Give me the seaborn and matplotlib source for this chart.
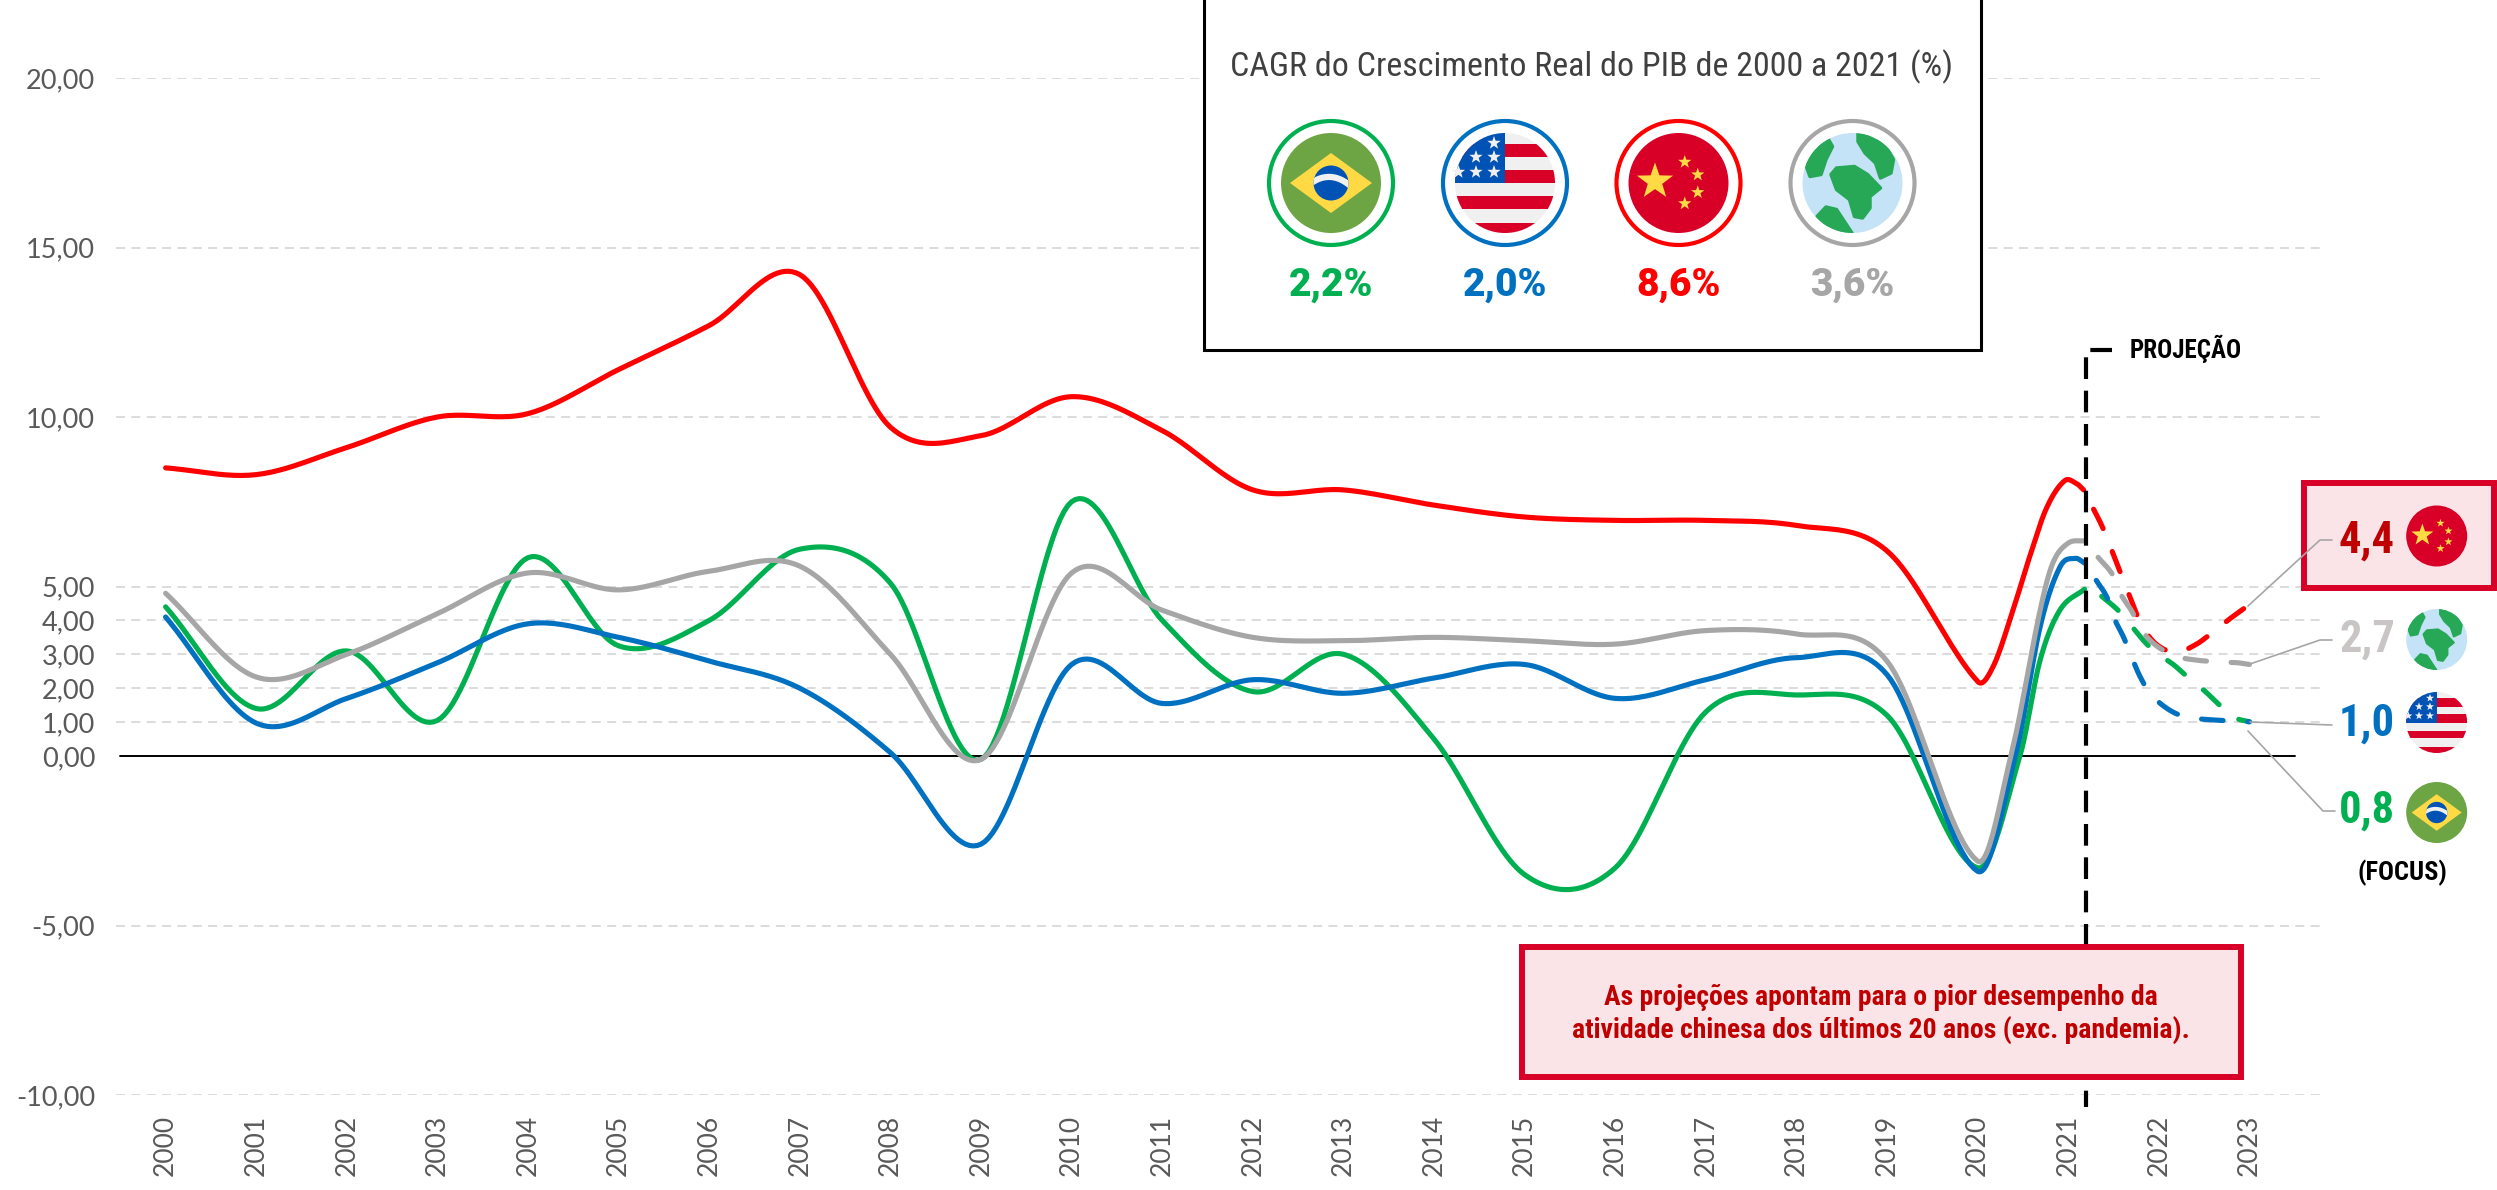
"""
plot.py
Crescimento real do PIB 2000-2023: Brasil, EUA, China e Mundo
"""

import numpy as np
import pandas as pd
import matplotlib
matplotlib.use("Agg")
import matplotlib.pyplot as plt
import seaborn as sns
from matplotlib.patches import Circle, Polygon, Rectangle

# Data
years = list(range(2000, 2021))
brazil = [4.4, 1.4, 3.1, 1.05, 5.85, 3.25, 4.0, 6.1, 5.1, -0.1, 7.5, 4.0,
          1.9, 3.0, 0.5, -3.5, -3.3, 1.3, 1.8, 1.2, -3.3]
usa = [4.1, 0.97, 1.7, 2.75, 3.9, 3.5, 2.8, 2.0, 0.1, -2.6, 2.7, 1.55,
       2.25, 1.85, 2.3, 2.7, 1.7, 2.25, 2.9, 2.4, -3.4]
china = [8.5, 8.3, 9.1, 10.0, 10.1, 11.4, 12.7, 14.2, 9.7, 9.45, 10.6, 9.6,
         7.85, 7.85, 7.4, 7.05, 6.95, 6.95, 6.8, 6.05, 2.2]
world = [4.8, 2.33, 3.0, 4.2, 5.4, 4.9, 5.45, 5.6, 3.0, -0.1, 5.4, 4.3,
         3.5, 3.4, 3.5, 3.4, 3.3, 3.7, 3.6, 2.8, -3.1]

# the rebound after 2020 up to the PROJECAO line
tail_x_brazil = [2020.47, 2020.69, 2020.91, 2021.18]
tail_y_brazil = [0.03, 2.83, 4.31, 4.92]
tail_x_usa = [2020.42, 2020.69, 2020.91, 2021.08, 2021.18]
tail_y_usa = [0.03, 3.81, 5.58, 5.83, 5.69]
tail_x_china = [2020.17, 2020.38, 2020.57, 2020.76, 2020.96, 2021.09, 2021.17]
tail_y_china = [2.63, 4.21, 5.84, 7.31, 8.12, 8.04, 7.85]
tail_x_world = [2020.37, 2020.69, 2020.83, 2021.0, 2021.18]
tail_y_world = [0.03, 4.30, 5.69, 6.28, 6.35]

# projection stretch
proj_x_brazil = [2021.37, 2021.55, 2021.70, 2021.85, 2021.97, 2022.16,
                 2022.33, 2022.51, 2022.68, 2022.85, 2023.0]
proj_y_brazil = [4.71, 4.30, 3.83, 3.35, 3.06, 2.70, 2.30, 1.91, 1.48, 1.12, 1.01]
proj_x_usa = [2021.31, 2021.43, 2021.51, 2021.61, 2021.70, 2021.79, 2021.91,
              2022.16, 2022.39, 2022.62, 2023.0]
proj_y_usa = [5.18, 4.67, 4.05, 3.51, 2.92, 2.36, 1.82, 1.29, 1.12, 1.06, 1.01]
proj_x_china = [2021.28, 2021.38, 2021.55, 2021.72, 2021.81, 2021.98, 2022.19,
                2022.41, 2022.59, 2022.78, 2022.96]
proj_y_china = [7.28, 6.74, 5.59, 4.43, 3.85, 3.28, 3.06, 3.29, 3.64, 4.04, 4.39]
proj_x_world = [2021.33, 2021.49, 2021.57, 2021.70, 2021.81, 2021.97, 2022.18,
                2022.41, 2022.64, 2022.87, 2023.0]
proj_y_world = [5.86, 5.35, 4.82, 4.28, 3.71, 3.26, 2.95, 2.83, 2.78, 2.75, 2.70]

countries = ["Brasil", "EUA", "China", "Mundo"]
y_ticks = [-10, -5, 0, 1, 2, 3, 4, 5, 10, 15, 20]
y_labels = ["-10,00", "-5,00", "0,00", "1,00", "2,00", "3,00", "4,00", "5,00",
            "10,00", "15,00", "20,00"]
x_ticks = list(range(2000, 2024))
cagr_labels = ["2,2%", "2,0%", "8,6%", "3,6%"]
proj_labels = ["0,8", "1,0", "4,4", "2,7"]

title = "CAGR do Crescimento Real do PIB de 2000 a 2021 (%)"
note = ("As projeções apontam para o pior desempenho da\n"
        "atividade chinesa dos últimos 20 anos (exc. pandemia).")

# Colours
GREEN = "#00B050"
BLUE = "#0070C0"
RED = "#FF0000"
GRAY = "#A6A6A6"
palette = dict(zip(countries, [GREEN, BLUE, RED, GRAY]))
DARK_RED = "#C00000"
BOX_RED = "#D80027"
BOX_FILL = "#FAE4E7"
NARROW = "Roboto Condensed"

W, H = 2497, 1190


def smooth(x, y, n=24):
    """Same curve as a spreadsheet 'smoothed line': Catmull-Rom through the points."""
    x = np.asarray(x, float)
    y = np.asarray(y, float)
    m = np.gradient(y, x)
    m[1:-1] = (y[2:] - y[:-2]) / (x[2:] - x[:-2])
    xs, ys = [x[0]], [y[0]]
    for i in range(len(x) - 1):
        h = x[i + 1] - x[i]
        t = np.linspace(0, 1, n + 1)[1:]
        a = (2 * t**3 - 3 * t**2 + 1) * y[i] + (t**3 - 2 * t**2 + t) * h * m[i]
        b = (-2 * t**3 + 3 * t**2) * y[i + 1] + (t**3 - t**2) * h * m[i + 1]
        xs.extend(x[i] + t * h)
        ys.extend(a + b)
    return np.array(xs), np.array(ys)


def long_table(series):
    frames = []
    for name, (x, y) in series.items():
        sx, sy = smooth(x, y)
        frames.append(pd.DataFrame({"ano": sx, "pib": sy, "pais": name}))
    return pd.concat(frames, ignore_index=True)


def star(ax, cx, cy, radius, color, zorder):
    ang = np.deg2rad(-90 + 36 * np.arange(10))
    rad = np.where(np.arange(10) % 2 == 0, radius, radius * 0.4)
    pts = np.column_stack([cx + rad * np.cos(ang), cy + rad * np.sin(ang)])
    ax.add_patch(Polygon(pts, closed=True, fc=color, ec="none", zorder=zorder))


def flag(ax, kind, cx, cy, r, z=10):
    """Small round flags, drawn in pixel coordinates on the overlay axes."""
    if kind == "Brasil":
        ax.add_patch(Circle((cx, cy), r, fc="#6DA544", ec="none", zorder=z))
        ax.add_patch(Polygon([(cx - 0.82 * r, cy), (cx, cy - 0.6 * r),
                              (cx + 0.82 * r, cy), (cx, cy + 0.6 * r)],
                             fc="#FFDA44", ec="none", zorder=z + 1))
        globe = Circle((cx, cy), 0.35 * r, fc="#0052B4", ec="none", zorder=z + 2)
        ax.add_patch(globe)
        t = np.linspace(-1, 1, 30)
        band, = ax.plot(cx + 0.38 * r * t, cy + r * (-0.12 + 0.03 * t + 0.14 * t**2),
                        color="#F0F0F0", lw=r * 0.09, zorder=z + 3)
        band.set_clip_path(globe)
    elif kind == "EUA":
        base = Circle((cx, cy), r, fc="#F0F0F0", ec="none", zorder=z)
        ax.add_patch(base)
        for top, bottom in [(-0.79, -0.52), (-0.265, 0.0), (0.265, 0.52), (0.79, 1.0)]:
            p = Rectangle((cx - r, cy + top * r), 2 * r, (bottom - top) * r,
                          fc="#D80027", ec="none", zorder=z + 1)
            ax.add_patch(p)
            p.set_clip_path(base)
        canton = Rectangle((cx - r, cy - r), r, r, fc="#0052B4", ec="none", zorder=z + 2)
        ax.add_patch(canton)
        canton.set_clip_path(base)
        for dx in (-0.22, -0.58, -0.93):
            for dy in (-0.8, -0.52, -0.22):
                if dx**2 + dy**2 < 0.95:
                    star(ax, cx + dx * r, cy + dy * r, 0.14 * r, "#F0F0F0", z + 3)
    elif kind == "China":
        ax.add_patch(Circle((cx, cy), r, fc="#D80027", ec="none", zorder=z))
        star(ax, cx - 0.47 * r, cy - 0.03 * r, 0.38 * r, "#FFDA44", z + 1)
        for dx, dy in [(0.125, -0.42), (0.385, -0.167), (0.385, 0.187), (0.125, 0.41)]:
            star(ax, cx + dx * r, cy + dy * r, 0.14 * r, "#FFDA44", z + 1)
    else:
        base = Circle((cx, cy), r, fc="#C4E3F7", ec="none", zorder=z)
        ax.add_patch(base)
        blobs = [
            [(-.43, -.17), (-.32, -.30), (.04, -.33), (.30, -.17), (.56, .10), (.35, .27),
             (.35, .50), (.20, .70), (.04, .67), (-.06, .33), (-.32, .13)],
            [(.11, -.99), (.46, -.95), (.67, -.73), (.82, -.47), (.77, -.20), (.56, -.10),
             (.46, -.40), (.25, -.60), (.11, -.83)],
            [(-.48, -.87), (-.40, -.73), (-.53, -.47), (-.63, -.17), (-.85, -.13), (-.95, -.40),
             (-.74, -.73)],
            [(-.53, .48), (-.32, .53), (-.01, 1.0), (-.27, .97), (-.58, .83), (-.71, .67)],
        ]
        for blob in blobs:
            pts = [(cx + a * r, cy + b * r) for a, b in blob]
            p = Polygon(pts, closed=True, fc="#27A857", ec="#27A857", lw=r * 0.05,
                        joinstyle="round", zorder=z + 1)
            ax.add_patch(p)
            p.set_clip_path(base)


def main():
    sns.set_theme(style="white")
    plt.rcParams["font.family"] = ["Lato", "DejaVu Sans"]

    fig = plt.figure(figsize=(W / 100, H / 100), dpi=100, facecolor="white")

    # gridlines run from x=116 to x=2322, -10 sits at y=1095 and 20 at y=78
    x_left = 2000 - (165.6 - 116) / 90.6
    x_right = 2000 + (2322 - 165.6) / 90.6
    ax = fig.add_axes([116 / W, 1 - 1095 / H, (2322 - 116) / W, (1095 - 78) / H])

    # --- solid lines ---
    solid = {
        "Brasil": (years + tail_x_brazil, brazil + tail_y_brazil),
        "EUA": (years + tail_x_usa, usa + tail_y_usa),
        "China": (years + tail_x_china, china + tail_y_china),
        "Mundo": (years + tail_x_world, world + tail_y_world),
    }
    sns.lineplot(data=long_table(solid), x="ano", y="pib", hue="pais", hue_order=countries,
                 palette=palette, estimator=None, errorbar=None, legend=False, lw=3.7,
                 solid_capstyle="round", ax=ax)

    # --- dashed projections ---
    projection = {
        "Brasil": (proj_x_brazil, proj_y_brazil),
        "EUA": (proj_x_usa, proj_y_usa),
        "China": (proj_x_china, proj_y_china),
        "Mundo": (proj_x_world, proj_y_world),
    }
    sns.lineplot(data=long_table(projection), x="ano", y="pib", hue="pais", hue_order=countries,
                 palette=palette, estimator=None, errorbar=None, legend=False, lw=3.7,
                 linestyle=(0, (4.2, 4.8)), dash_capstyle="round", ax=ax)

    # --- axes ---
    ax.set_xlim(x_left, x_right)
    ax.set_ylim(-10, 20)
    ax.set_xticks(x_ticks)
    ax.set_xticklabels(x_ticks, rotation=90, fontsize=19, color="#595959")
    ax.set_yticks(y_ticks)
    ax.set_yticklabels(y_labels, fontsize=19.5, color="#595959")
    ax.tick_params(axis="x", length=0, pad=14)
    ax.tick_params(axis="y", length=0, pad=15)
    ax.set_xlabel("")
    ax.set_ylabel("")
    sns.despine(ax=ax, left=True, bottom=True)
    ax.patch.set_alpha(0)

    ax.grid(axis="y", color="#D9D9D9", lw=1.3, linestyle=(0, (5, 3.5)))
    ax.grid(axis="x", visible=False)
    ax.set_axisbelow(True)
    for tick, line in zip(y_ticks, ax.yaxis.get_gridlines()):
        if tick == 0:
            line.set_visible(False)
    ax.plot([1999.5, 2023.5], [0, 0], color="black", lw=1.4, zorder=1.5)

    # --- overlay in pixel coordinates for boxes, flags and callouts ---
    ov = fig.add_axes([0, 0, 1, 1])
    ov.set_xlim(0, W)
    ov.set_ylim(H, 0)
    ov.axis("off")

    # projection marker
    ov.plot([2112, 2085.5, 2085.5], [349.5, 349.5, 1107], color="black", lw=3,
            linestyle=(0, (5.2, 2.8)), zorder=3)
    ov.text(2186, 349, "PROJEÇÃO", family=NARROW, fontweight="bold", fontsize=18,
            color="black", ha="center", va="center")

    # CAGR box at the top
    ov.add_patch(Rectangle((1204, -10), 777, 360, fc="white", ec="black", lw=2.2, zorder=5))
    ov.text(1591, 67, title, family=NARROW, fontsize=24.5, color="#404040",
            ha="center", va="center", zorder=6)
    for name, cx, label in zip(countries, [1331, 1505, 1678.5, 1852.5], cagr_labels):
        ov.add_patch(Circle((cx, 183), 62, fc="white", ec=palette[name], lw=3, zorder=6))
        flag(ov, name, cx, 183, 50, z=7)
        ov.text(cx, 285, label, family="Roboto", fontweight=900, fontsize=28, color=palette[name],
                ha="center", va="center", zorder=7)

    # red note at the bottom
    ov.add_patch(Rectangle((1522, 947), 719, 130, fc=BOX_FILL, ec=BOX_RED, lw=4.3, zorder=5))
    ov.text(1881, 1014, note, family=NARROW, fontweight="bold", fontsize=20, color=DARK_RED,
            ha="center", va="center", linespacing=1.2, zorder=6)

    # 2023 callouts on the right
    ov.add_patch(Rectangle((2304, 483), 190, 105, fc=BOX_FILL, ec=BOX_RED, lw=4.3, zorder=2))
    leaders = [
        ([2248, 2320, 2332], [606, 540, 540]),
        ([2250, 2320, 2332], [664, 640, 640]),
        ([2250, 2332], [722, 725]),
        ([2248, 2323, 2335], [731, 811, 811]),
    ]
    for lx, ly in leaders:
        ov.plot(lx, ly, color=GRAY, lw=1.2, zorder=4)

    callouts = [("Brasil", 811, 812.5, GREEN), ("EUA", 724, 722.5, BLUE),
                ("China", 541, 536, DARK_RED), ("Mundo", 640, 639.5, "#C9C5C5")]
    for (name, text_y, flag_y, color), label in zip(callouts, proj_labels):
        ov.text(2367, text_y, label, family=NARROW, fontweight="bold", fontsize=32,
                color=color, ha="center", va="center", zorder=6)
        flag(ov, name, 2436.7, flag_y, 30.5, z=7)
    ov.text(2402, 873, "(FOCUS)", family=NARROW, fontweight="bold", fontsize=19,
            color="black", ha="center", va="center", zorder=6)

    fig.savefig("out.png", dpi=100, facecolor="white")
    plt.close(fig)


if __name__ == "__main__":
    main()
